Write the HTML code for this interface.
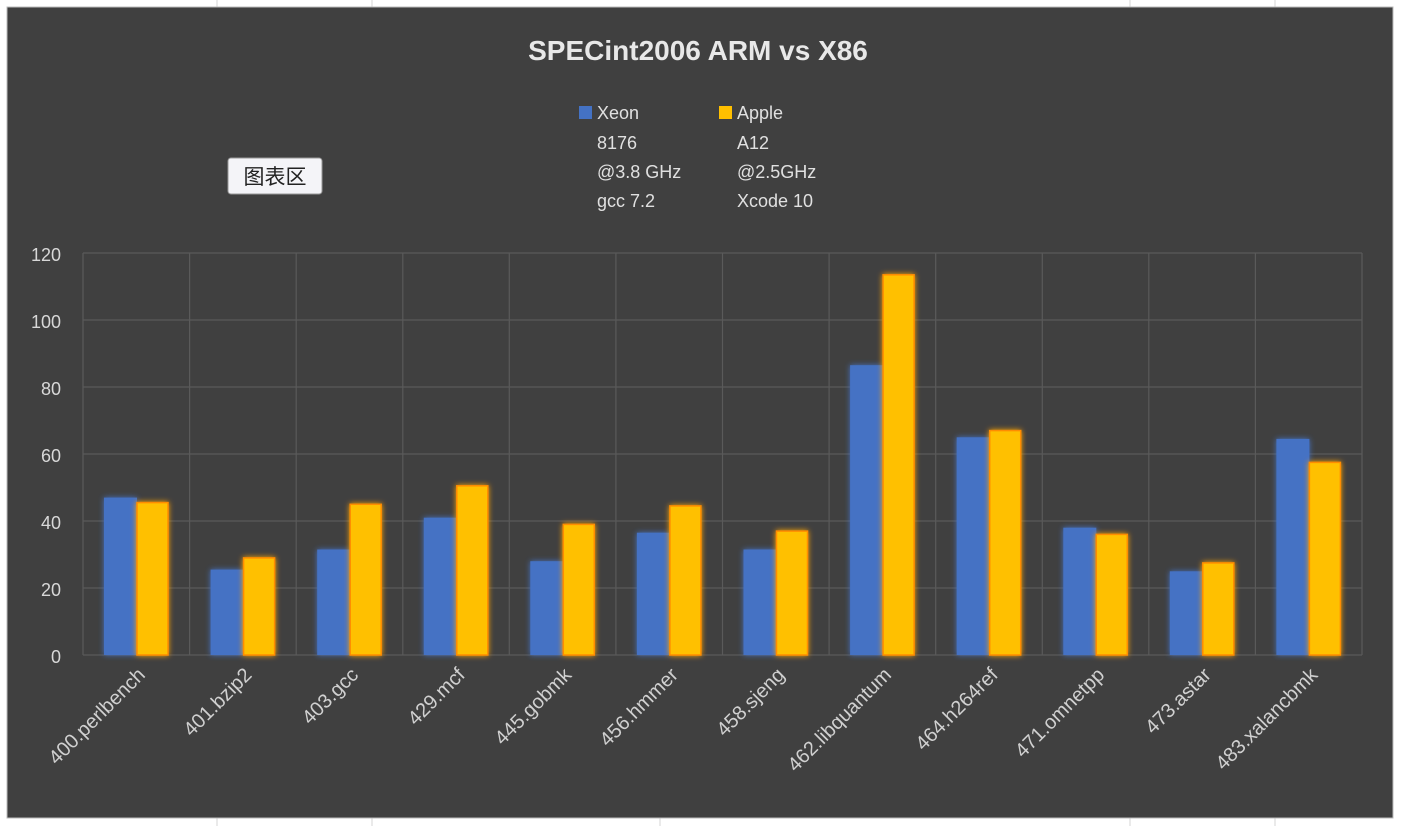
<!DOCTYPE html><html><head><style>body{margin:0;background:#fff;}svg{display:block}</style></head><body>
<svg width="1404" height="826" xmlns="http://www.w3.org/2000/svg" font-family="Liberation Sans, sans-serif">
<defs><filter id="gl" x="-40%" y="-10%" width="180%" height="120%"><feGaussianBlur stdDeviation="3" result="b"/><feMerge><feMergeNode in="b"/><feMergeNode in="SourceGraphic"/></feMerge></filter></defs>
<g stroke="#d4d4d4"><line x1="217" y1="0" x2="217" y2="8"/><line x1="372" y1="0" x2="372" y2="8"/><line x1="1130" y1="0" x2="1130" y2="8"/><line x1="1275" y1="0" x2="1275" y2="8"/><line x1="217" y1="818" x2="217" y2="826"/><line x1="372" y1="818" x2="372" y2="826"/><line x1="660" y1="818" x2="660" y2="826"/><line x1="1130" y1="818" x2="1130" y2="826"/><line x1="1275" y1="818" x2="1275" y2="826"/></g>
<rect x="7" y="7" width="1386" height="811" fill="#404040" stroke="#bbb"/>
<text x="698" y="60" fill="#e8e8e8" font-size="28" font-weight="bold" text-anchor="middle">SPECint2006 ARM vs X86</text>
<rect x="579" y="106" width="13" height="13" fill="#4472c4"/><rect x="719" y="106" width="13" height="13" fill="#ffc000"/>
<g fill="#e0e0e0" font-size="18"><text x="597" y="119">Xeon</text><text x="597" y="149">8176</text><text x="597" y="178">@3.8 GHz</text><text x="597" y="207">gcc 7.2</text>
<text x="737" y="119">Apple</text><text x="737" y="149">A12</text><text x="737" y="178">@2.5GHz</text><text x="737" y="207">Xcode 10</text></g>
<rect x="228" y="158" width="94" height="36" rx="3" fill="#f4f4f8" stroke="#999"/><text x="275" y="184" text-anchor="middle" font-size="21" fill="#222" font-family="Noto Sans CJK SC, sans-serif">图表区</text>
<g stroke="#5a5a5a" stroke-width="1.2">
<line x1="83" y1="253" x2="1362" y2="253"/><line x1="83" y1="320" x2="1362" y2="320"/><line x1="83" y1="387" x2="1362" y2="387"/><line x1="83" y1="454" x2="1362" y2="454"/><line x1="83" y1="521" x2="1362" y2="521"/><line x1="83" y1="588" x2="1362" y2="588"/><line x1="83" y1="655" x2="1362" y2="655"/>
<line x1="83" y1="253" x2="83" y2="655"/><line x1="189.6" y1="253" x2="189.6" y2="655"/><line x1="296.2" y1="253" x2="296.2" y2="655"/><line x1="402.8" y1="253" x2="402.8" y2="655"/><line x1="509.3" y1="253" x2="509.3" y2="655"/><line x1="615.9" y1="253" x2="615.9" y2="655"/><line x1="722.5" y1="253" x2="722.5" y2="655"/><line x1="829.1" y1="253" x2="829.1" y2="655"/><line x1="935.7" y1="253" x2="935.7" y2="655"/><line x1="1042.3" y1="253" x2="1042.3" y2="655"/><line x1="1148.8" y1="253" x2="1148.8" y2="655"/><line x1="1255.4" y1="253" x2="1255.4" y2="655"/><line x1="1362" y1="253" x2="1362" y2="655"/>
</g>
<g fill="#d8d8d8" font-size="18" text-anchor="end"><text x="61" y="261">120</text><text x="61" y="328">100</text><text x="61" y="395">80</text><text x="61" y="462">60</text><text x="61" y="529">40</text><text x="61" y="596">20</text><text x="61" y="663">0</text></g>
<g fill="#4472c4" filter="url(#gl)">
<rect x="104" y="497.6" width="33" height="157.4"/>
<rect x="210.6" y="569.6" width="33" height="85.4"/>
<rect x="317.2" y="549.5" width="33" height="105.5"/>
<rect x="423.8" y="517.7" width="33" height="137.3"/>
<rect x="530.3" y="561.2" width="33" height="93.8"/>
<rect x="636.9" y="532.7" width="33" height="122.3"/>
<rect x="743.5" y="549.5" width="33" height="105.5"/>
<rect x="850.1" y="365.2" width="33" height="289.8"/>
<rect x="956.7" y="437.3" width="33" height="217.7"/>
<rect x="1063.3" y="527.7" width="33" height="127.3"/>
<rect x="1169.8" y="571.3" width="33" height="83.7"/>
<rect x="1276.4" y="438.9" width="33" height="216.1"/>
</g>
<g fill="#ffc000" stroke="#ff8c00" stroke-width="1.5" filter="url(#gl)">
<rect x="137" y="502.6" width="31" height="152.4"/>
<rect x="243.6" y="557.9" width="31" height="97.1"/>
<rect x="350.2" y="504.3" width="31" height="150.7"/>
<rect x="456.8" y="485.8" width="31" height="169.2"/>
<rect x="563.3" y="524.4" width="31" height="130.6"/>
<rect x="669.9" y="505.9" width="31" height="149.1"/>
<rect x="776.5" y="531.1" width="31" height="123.9"/>
<rect x="883.1" y="274.8" width="31" height="380.2"/>
<rect x="989.7" y="430.6" width="31" height="224.4"/>
<rect x="1096.3" y="534.4" width="31" height="120.6"/>
<rect x="1202.8" y="562.9" width="31" height="92.1"/>
<rect x="1309.4" y="462.4" width="31" height="192.6"/>
</g>
<g fill="#d0d0d0" font-size="20" text-anchor="end">
<text transform="translate(146.3,676) rotate(-45)">400.perlbench</text>
<text transform="translate(252.9,676) rotate(-45)">401.bzip2</text>
<text transform="translate(359.5,676) rotate(-45)">403.gcc</text>
<text transform="translate(466.1,676) rotate(-45)">429.mcf</text>
<text transform="translate(572.6,676) rotate(-45)">445.gobmk</text>
<text transform="translate(679.2,676) rotate(-45)">456.hmmer</text>
<text transform="translate(785.8,676) rotate(-45)">458.sjeng</text>
<text transform="translate(892.4,676) rotate(-45)">462.libquantum</text>
<text transform="translate(999,676) rotate(-45)">464.h264ref</text>
<text transform="translate(1105.6,676) rotate(-45)">471.omnetpp</text>
<text transform="translate(1212.1,676) rotate(-45)">473.astar</text>
<text transform="translate(1318.7,676) rotate(-45)">483.xalancbmk</text>
</g>
</svg></body></html>
